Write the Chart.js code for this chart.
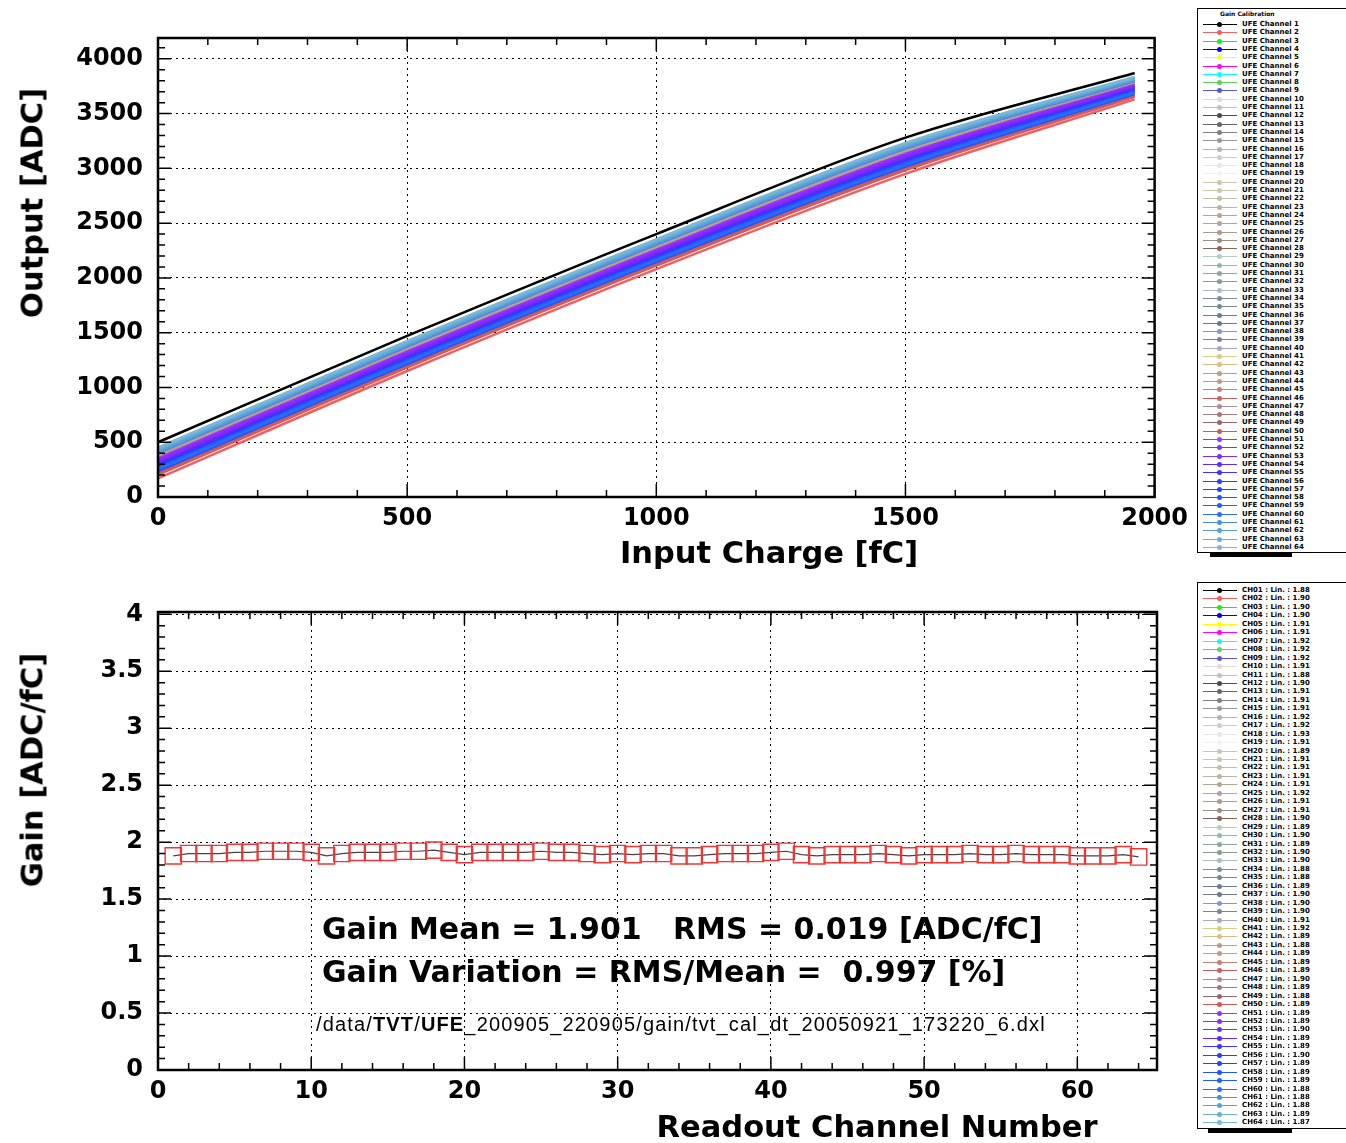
<!DOCTYPE html>
<html>
<head>
<meta charset="utf-8">
<script src="https://cdn.jsdelivr.net/npm/chart.js@4.4.1/dist/chart.umd.min.js"></script>
<style>
  body { margin: 0; background: #fff; width: 1346px; height: 1143px; overflow: hidden; position: relative; font-family: 'DejaVu Sans', sans-serif; }
  canvas { position: absolute; left: 0; }
  .title { position: absolute; white-space: nowrap; font-weight: bold; font-size: 30.5px; color: #000; transform: translate(-50%, -50%); }
  .title.rot { transform: translate(-50%, -50%) rotate(-90deg); }
  .note { position: absolute; white-space: nowrap; color: #000; }
  .legend { position: absolute; left: 1197px; width: 152px; border: 1px solid #000; background: #fff; box-sizing: border-box; }
  .legend .row { position: absolute; left: 0; height: 8px; width: 150px; }
  .legend .line { position: absolute; left: 5px; top: 4px; width: 34px; height: 1px; }
  .legend .dot { position: absolute; left: 19px; top: 2px; width: 5px; height: 5px; border-radius: 50%; }
  .legend .txt { position: absolute; left: 44px; top: 0; font-size: 7px; line-height: 8px; font-weight: bold; white-space: nowrap; }
  .shadow { position: absolute; background: #000; height: 5px; }
</style>
</head>
<body>
<canvas id="outputChart" width="1195" height="560" style="top:0px"></canvas>
<canvas id="gainChart" width="1195" height="568" style="top:575px"></canvas>

<div class="title rot" style="left:32px; top:203px;">Output [ADC]</div>
<div class="title" style="left:769px; top:552px;">Input Charge [fC]</div>
<div class="title rot" style="left:32px; top:770px;">Gain [ADC/fC]</div>
<div class="title" style="left:877px; top:1126px;">Readout Channel Number</div>

<div class="note" style="left:322px; top:911px; font-size:30px; font-weight:bold;">Gain Mean = 1.901&nbsp;&nbsp;&nbsp;RMS = 0.019 [ADC/fC]</div>
<div class="note" style="left:322px; top:954px; font-size:30px; font-weight:bold;">Gain Variation = RMS/Mean =&nbsp;&nbsp;0.997 [%]</div>
<div class="note" style="left:316px; top:1013px; font-size:20px; letter-spacing:1.15px; font-family:'Liberation Sans', sans-serif;">/data/<b>TVT</b>/<b>UFE</b>_200905_220905/gain/tvt_cal_dt_20050921_173220_6.dxl</div>

<div id="legendTop" class="legend" style="top:8px; height:545px;"></div>
<div class="shadow" style="left:1210px; top:552px; width:82px;"></div>
<div id="legendBottom" class="legend" style="top:582px; height:547px;"></div>
<div class="shadow" style="left:1208px; top:1128px; width:84px;"></div>

<script>
// readout channels
const channels = [1, 2, 3, 4, 5, 6, 7, 8, 9, 10, 11, 12, 13, 14, 15, 16,
    17, 18, 19, 20, 21, 22, 23, 24, 25, 26, 27, 28, 29, 30, 31, 32,
    33, 34, 35, 36, 37, 38, 39, 40, 41, 42, 43, 44, 45, 46, 47, 48,
    49, 50, 51, 52, 53, 54, 55, 56, 57, 58, 59, 60, 61, 62, 63, 64];

// injected charge points [fC]
const inputCharge = [0, 500, 1000, 1500, 1960];

// y tick labels of the output panel
const outputTicks = [0, 500, 1000, 1500, 2000, 2500, 3000, 3500, 4000];

// output [ADC] of each channel at the charge points above
const channelOutput = [
    [500, 1470, 2400, 3280, 3870],
    [170, 1150, 2080, 2950, 3630],
    [351, 1326, 2256, 3131, 3762],
    [285, 1262, 2192, 3065, 3714],
    [368, 1342, 2272, 3148, 3774],
    [335, 1310, 2240, 3115, 3750],
    [434, 1406, 2336, 3214, 3822],
    [318, 1294, 2224, 3098, 3738],
    [269, 1246, 2176, 3049, 3702],
    [384, 1358, 2288, 3164, 3786],
    [401, 1374, 2304, 3181, 3798],
    [302, 1278, 2208, 3082, 3726],
    [355, 1330, 2258, 3130, 3760],
    [368, 1342, 2272, 3148, 3774],
    [272, 1250, 2178, 3050, 3704],
    [417, 1390, 2320, 3197, 3810],
    [335, 1310, 2240, 3115, 3750],
    [384, 1358, 2288, 3164, 3786],
    [318, 1294, 2224, 3098, 3738],
    [365, 1340, 2270, 3146, 3772],
    [351, 1326, 2256, 3131, 3762],
    [401, 1374, 2304, 3181, 3798],
    [285, 1262, 2192, 3065, 3714],
    [338, 1312, 2242, 3116, 3752],
    [302, 1278, 2208, 3082, 3726],
    [384, 1358, 2288, 3164, 3786],
    [318, 1294, 2224, 3098, 3738],
    [368, 1342, 2272, 3148, 3774],
    [417, 1390, 2320, 3197, 3810],
    [351, 1326, 2256, 3131, 3762],
    [335, 1310, 2240, 3115, 3750],
    [404, 1376, 2306, 3182, 3800],
    [450, 1422, 2352, 3230, 3834],
    [302, 1278, 2208, 3082, 3726],
    [368, 1342, 2272, 3148, 3774],
    [269, 1246, 2176, 3049, 3702],
    [318, 1294, 2224, 3098, 3738],
    [434, 1406, 2336, 3214, 3822],
    [335, 1310, 2240, 3115, 3750],
    [384, 1358, 2288, 3164, 3786],
    [351, 1326, 2256, 3131, 3762],
    [285, 1262, 2192, 3065, 3714],
    [368, 1342, 2272, 3148, 3774],
    [318, 1294, 2224, 3098, 3738],
    [335, 1310, 2240, 3115, 3750],
    [203, 1182, 2112, 2983, 3654],
    [302, 1278, 2208, 3082, 3726],
    [351, 1326, 2256, 3131, 3762],
    [401, 1374, 2304, 3181, 3798],
    [219, 1198, 2128, 2999, 3666],
    [351, 1326, 2256, 3131, 3762],
    [335, 1310, 2240, 3115, 3750],
    [318, 1294, 2224, 3098, 3738],
    [302, 1278, 2208, 3082, 3726],
    [285, 1262, 2192, 3065, 3714],
    [269, 1246, 2176, 3049, 3702],
    [252, 1230, 2160, 3032, 3690],
    [236, 1214, 2144, 3016, 3678],
    [269, 1246, 2176, 3049, 3702],
    [252, 1230, 2160, 3032, 3690],
    [401, 1374, 2304, 3181, 3798],
    [417, 1390, 2320, 3197, 3810],
    [434, 1406, 2336, 3214, 3822],
    [450, 1422, 2352, 3230, 3834]
];

// fitted gain [ADC/fC] per channel
const gainValues = [
    1.88, 1.90, 1.90, 1.90, 1.91, 1.91, 1.92, 1.92, 1.92, 1.91, 1.88, 1.90, 1.91, 1.91, 1.91, 1.92,
    1.92, 1.93, 1.91, 1.89, 1.91, 1.91, 1.91, 1.91, 1.92, 1.91, 1.91, 1.90, 1.89, 1.90, 1.89, 1.90,
    1.90, 1.88, 1.88, 1.89, 1.90, 1.90, 1.90, 1.91, 1.92, 1.89, 1.88, 1.89, 1.89, 1.89, 1.90, 1.89,
    1.88, 1.89, 1.89, 1.89, 1.90, 1.89, 1.89, 1.90, 1.89, 1.89, 1.89, 1.88, 1.88, 1.88, 1.89, 1.87
];

// ROOT colour index = channel number
const channelColors = [
    '#000000', '#f06060', '#00ff00', '#0000ff', '#ffff00', '#ff00ff', '#00ffff', '#59d454',
    '#5954d9', '#dcdcdc', '#c0c0c0', '#4d4d4d', '#666666', '#808080', '#999999', '#b3b3b3',
    '#cccccc', '#e6e6e6', '#f2f2f2', '#ccc7ab', '#ccc7ab', '#c2bfa8', '#bab5a3', '#b3a696',
    '#b8a39c', '#ad998c', '#9c8f82', '#876657', '#b0cfc7', '#85c2a3', '#8aa8a1', '#829e8c',
    '#adbdc7', '#7a8f99', '#758a91', '#697d96', '#6e7a85', '#7d99d1', '#80809c', '#aba6bf',
    '#d4cf87', '#deba87', '#bd9e82', '#c79982', '#bf8278', '#cf5e61', '#ab8f94', '#a67a7a',
    '#946970', '#d4594f', '#9933ff', '#8a2bff', '#7a2bff', '#5a2bff', '#3d33ff', '#2b3dff',
    '#1f45ff', '#1f55ff', '#1f60ff', '#2a6cff', '#4a90e0', '#5aa0d8', '#6aaed6', '#7ab8d8'
];

// frame + inward ticks on all four sides, ROOT style
const rootFrame = {
    id: 'rootFrame',
    afterDraw(chart, args, opts) {
        const { ctx, chartArea: a, scales } = chart;
        ctx.save();
        ctx.strokeStyle = '#000';
        ctx.lineWidth = 1.5;
        const tickSet = (scale, minor, major) => {
            const out = [];
            let v = Math.ceil(scale.min / minor - 1e-6) * minor;
            while (v <= scale.max + 1e-9) {
                const r = v / major;
                out.push({ px: scale.getPixelForValue(v), big: Math.abs(r - Math.round(r)) < 1e-6 });
                v += minor;
            }
            return out;
        };
        ctx.beginPath();
        tickSet(scales.x, opts.xMinor, opts.xMajor).forEach(t => {
            const len = t.big ? 13 : 7;
            ctx.moveTo(t.px, a.bottom); ctx.lineTo(t.px, a.bottom - len);
            ctx.moveTo(t.px, a.top); ctx.lineTo(t.px, a.top + len);
        });
        tickSet(scales.y, opts.yMinor, opts.yMajor).forEach(t => {
            const len = t.big ? 13 : 7;
            ctx.moveTo(a.left, t.px); ctx.lineTo(a.left + len, t.px);
            ctx.moveTo(a.right, t.px); ctx.lineTo(a.right - len, t.px);
        });
        ctx.stroke();
        ctx.lineWidth = 2.5;
        ctx.strokeRect(a.left, a.top, a.right - a.left, a.bottom - a.top);
        ctx.restore();
    }
};

const tickFont = { family: 'DejaVu Sans', weight: 'bold', size: 24 };

function axis(min, max, step, extra) {
    return Object.assign({
        type: 'linear',
        min: min,
        max: max,
        grid: { color: '#000', lineWidth: 1, drawTicks: false },
        border: { display: false, dash: [2, 4] },
        ticks: {
            stepSize: step,
            includeBounds: false,
            color: '#000',
            font: tickFont,
            maxRotation: 0,
            autoSkip: false,
            callback: v => String(v)
        }
    }, extra);
}

const outX = axis(0, 2000, 500, { afterFit: s => { s.height = 63; } });
outX.ticks.padding = 7;
const outY = axis(0, 4190, 500, {
    afterFit: s => { s.width = 158; },
    afterBuildTicks: s => { s.ticks = outputTicks.map(v => ({ value: v })); }
});
outY.ticks.padding = 15;

new Chart(document.getElementById('outputChart'), {
    type: 'line',
    data: {
        datasets: channels.map((ch, i) => ({
            label: 'UFE Channel ' + ch,
            data: inputCharge.map((q, k) => ({ x: q, y: channelOutput[i][k] })),
            borderColor: channelColors[i],
            borderWidth: 2.5,
            pointRadius: 0,
            cubicInterpolationMode: 'monotone',
            fill: false,
            order: channels.length - i
        }))
    },
    options: {
        responsive: false,
        animation: false,
        layout: { padding: { top: 38, right: 38, left: 0, bottom: 0 } },
        plugins: {
            legend: { display: false },
            tooltip: { enabled: false },
            rootFrame: { xMinor: 100, xMajor: 500, yMinor: 100, yMajor: 500 }
        },
        scales: { x: outX, y: outY }
    },
    plugins: [rootFrame]
});

const gainX = axis(0, 65.2, 10, { afterFit: s => { s.height = 73; } });
gainX.ticks.padding = 7;
const gainY = axis(0, 4.02, 0.5, { afterFit: s => { s.width = 158; } });
gainY.ticks.padding = 15;

new Chart(document.getElementById('gainChart'), {
    type: 'line',
    data: {
        datasets: [{
            label: 'Gain',
            data: channels.map((ch, i) => ({ x: ch, y: gainValues[i] })),
            borderColor: '#444',
            borderWidth: 1.2,
            pointStyle: 'rect',
            pointRadius: 11.5,
            pointBorderColor: '#ee3535',
            pointBackgroundColor: 'rgba(0,0,0,0)',
            pointBorderWidth: 1.4,
            tension: 0,
            fill: false
        }]
    },
    options: {
        responsive: false,
        animation: false,
        layout: { padding: { top: 37, right: 38, left: 0, bottom: 0 } },
        plugins: {
            legend: { display: false },
            tooltip: { enabled: false },
            rootFrame: { xMinor: 2, xMajor: 10, yMinor: 0.1, yMajor: 0.5 }
        },
        scales: { x: gainX, y: gainY }
    },
    plugins: [rootFrame]
});

// legends
function buildLegend(id, firstRow, rowStep, textFor, header) {
    const box = document.getElementById(id);
    if (header) {
        const h = document.createElement('div');
        h.style.cssText = 'position:absolute;left:22px;top:1px;font-size:6px;line-height:7px;font-weight:bold;white-space:nowrap;';
        h.textContent = header;
        box.appendChild(h);
    }
    channels.forEach((ch, i) => {
        const row = document.createElement('div');
        row.className = 'row';
        row.style.top = (firstRow + i * rowStep) + 'px';
        row.innerHTML = '<div class="line" style="background:' + channelColors[i] + '"></div>' +
            '<div class="dot" style="background:' + channelColors[i] + '"></div>' +
            '<div class="txt">' + textFor(ch, i) + '</div>';
        box.appendChild(row);
    });
}

buildLegend('legendTop', 11, 8.3, ch => 'UFE Channel ' + ch, 'Gain Calibration');
buildLegend('legendBottom', 3, 8.45, (ch, i) => 'CH' + String(ch).padStart(2, '0') + ' :  Lin. :  ' + gainValues[i].toFixed(2));
</script>
</body>
</html>
